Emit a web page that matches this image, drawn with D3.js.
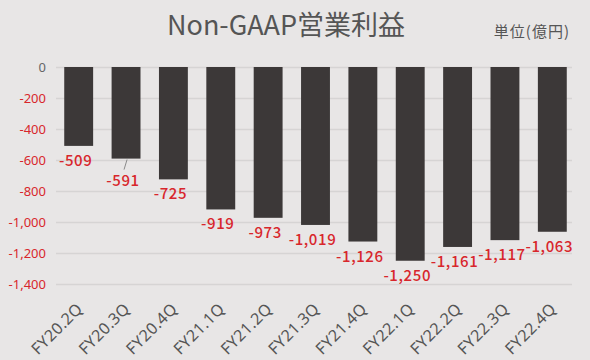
<!DOCTYPE html>
<html>
<head>
<meta charset="utf-8">
<script src="https://cdn.jsdelivr.net/npm/d3@7"></script>
<style>
  body { margin: 0; background: #e8e6e6; }
  svg { display: block; font-family: 'Noto Sans CJK JP', 'Noto Sans', sans-serif; }
</style>
</head>
<body>
<div id="chart"></div>
<script>
// DATA
let quarters = ['FY20.2Q','FY20.3Q','FY20.4Q','FY21.1Q','FY21.2Q','FY21.3Q','FY21.4Q','FY22.1Q','FY22.2Q','FY22.3Q','FY22.4Q']
let profit = [-509, -591, -725, -919, -973, -1019, -1126, -1250, -1161, -1117, -1063]
let yTicks = [0, -200, -400, -600, -800, -1000, -1200, -1400]

// CHART SETUP
let width = 590, height = 360
let red = '#d8262c'
// plain hyphen instead of d3's unicode minus
let fmt = d => d3.format(',')(d).replace('\u2212', '-')

let svg = d3.select('#chart')
  .append('svg')
  .attr('width', width)
  .attr('height', height)

svg.append('rect')
  .attr('width', width)
  .attr('height', height)
  .attr('fill', '#e8e6e6')

let x = d3.scaleBand()
  .domain(quarters)
  .range([55, 576])
  .paddingInner(0.39)
  .paddingOuter(0.195)

let y = d3.scaleLinear()
  .domain([0, -1400])
  .range([67, 284])

// gridlines + y labels
let yAxis = svg.append('g')
  .attr('transform', 'translate(56,0)')
  .call(d3.axisLeft(y).tickValues(yTicks).tickSize(-516).tickPadding(10)
    .tickFormat(fmt))

yAxis.select('.domain').remove()
yAxis.selectAll('line').attr('stroke', '#d6d4d4').attr('stroke-width', 1.5)
yAxis.selectAll('text')
  .attr('fill', d => d === 0 ? '#666' : red)
  .style('font-size', '13px')
  .style('font-family', 'Noto Sans')

// bars
svg.selectAll('.bar')
  .data(profit)
  .enter().append('rect')
    .attr('class', 'bar')
    .attr('x', (d, i) => x(quarters[i]))
    .attr('y', y(0))
    .attr('width', x.bandwidth())
    .attr('height', d => y(d) - y(0))
    .attr('fill', '#3c3838')

// value labels (FY20.3Q is pushed down with a leader line)
let callout = 1
svg.append('line')
  .attr('x1', x(quarters[callout]) + x.bandwidth() / 2 + 1)
  .attr('y1', y(profit[callout]) + 1)
  .attr('x2', x(quarters[callout]) + x.bandwidth() / 2 - 2)
  .attr('y2', y(profit[callout]) + 11)
  .attr('stroke', '#8a8a8a')
  .attr('stroke-width', 1)

svg.selectAll('.value')
  .data(profit)
  .enter().append('text')
    .attr('class', 'value')
    .attr('x', (d, i) => x(quarters[i]) + x.bandwidth() / 2 - 3)
    .attr('y', (d, i) => y(d) + (i === callout ? 27 : 20))
    .style('text-anchor', 'middle')
    .style('font-size', '15px')
    .style('font-weight', 500)
    .style('letter-spacing', '0.6px')
    .style('font-family', 'Noto Sans CJK JP')
    .attr('fill', red)
    .text(fmt)

// x labels
svg.selectAll('.xlabel')
  .data(quarters)
  .enter().append('text')
    .attr('class', 'xlabel')
    .attr('transform', d => 'translate(' + (x(d) + x.bandwidth() / 2 - 3) + ',302) rotate(-45)')
    .attr('dy', '0.7em')
    .style('text-anchor', 'end')
    .style('font-size', '16px')
    .style('letter-spacing', '0.4px')
    .style('font-family', 'Noto Sans')
    .attr('fill', '#555')
    .text(d => d)

// titles
svg.append('text')
  .attr('x', 286)
  .attr('y', 35)
  .style('text-anchor', 'middle')
  .style('font-size', '27px')
  .attr('fill', '#555')
  .text('Non-GAAP営業利益')

svg.append('text')
  .attr('x', 570)
  .attr('y', 37)
  .style('text-anchor', 'end')
  .style('font-size', '15px')
  .style('letter-spacing', '1px')
  .attr('fill', '#555')
  .text('単位(億円)')
</script>
</body>
</html>
